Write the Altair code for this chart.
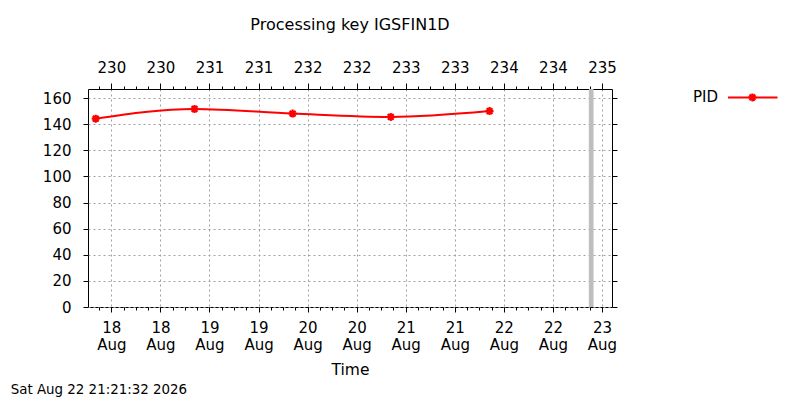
import altair as alt
import pandas as pd

# daily processing runs (UTC) and the PID value seen at each
run_times = [
    "2026-08-17T20:10:00Z",
    "2026-08-18T20:20:00Z",
    "2026-08-19T20:20:00Z",
    "2026-08-20T20:20:00Z",
    "2026-08-21T20:30:00Z",
]
pid_values = [144.3, 151.7, 148.2, 145.6, 150.1]
now_time = ["2026-08-22T21:21:32Z"]
y_ticks = [0, 20, 40, 60, 80, 100, 120, 140, 160]
stamp_text = "Sat Aug 22 21:21:32 2026"
series_name = "PID"

FONT = "DejaVu Sans"
# gnuplot pointtype 3: plus and cross on top of each other
STAR = "M-1,0L1,0M0,-1L0,1M-0.72,-0.72L0.72,0.72M-0.72,0.72L0.72,-0.72"

df = pd.DataFrame({"time": run_times, "pid": pid_values})
now_df = pd.DataFrame({"time": now_time})
dummy = pd.DataFrame({"a": [0]})


def ms(ts):
    return int(pd.Timestamp(ts).value // 10**6)


# half-day major ticks, 3-hourly minor ticks
major_ticks = [ms(t) for t in pd.date_range("2026-08-18", "2026-08-23", freq="12h", tz="UTC")]
minor_ticks = [ms(t) for t in pd.date_range("2026-08-17 21:00", "2026-08-23", freq="3h", tz="UTC")]

x_scale = alt.Scale(type="utc", domain=[ms("2026-08-17T18:17:00Z"), ms("2026-08-23T02:27:00Z")])
y_scale = alt.Scale(domain=[0, 167], nice=False)

grid_kw = dict(grid=True, gridColor="#a0a0a0", gridDash=[2, 3], gridWidth=1)

line = (
    alt.Chart(df)
    .mark_line(color="#ff0000", strokeWidth=2, interpolate="monotone")
    .encode(
        x=alt.X(
            "time:T", scale=x_scale, title="Time",
            axis=alt.Axis(
                orient="bottom", values=major_ticks, domain=False, tickSize=5,
                labelExpr="[utcFormat(datum.value, '%d'), utcFormat(datum.value, '%b')]",
                labelLineHeight=17, labelPadding=8, labelAngle=0, labelFlush=False,
                labelOverlap=False, titlePadding=10, **grid_kw,
            ),
        ),
        y=alt.Y(
            "pid:Q", scale=y_scale, title=None,
            axis=alt.Axis(orient="left", values=y_ticks, domain=False, tickSize=5,
                          labelPadding=12, **grid_kw),
        ),
    )
)

points = (
    alt.Chart(df)
    .mark_point(shape=STAR, size=64, color="#ff0000", strokeWidth=2.2, filled=False, opacity=1)
    .encode(
        x=alt.X(
            "time:T", scale=x_scale, title=None,
            axis=alt.Axis(orient="top", values=major_ticks, domain=False, tickSize=6, grid=False,
                          labelExpr="utcFormat(datum.value, '%j')", labelPadding=8,
                          labelFlush=False, labelOverlap=False),
        ),
        y=alt.Y(
            "pid:Q", scale=y_scale, title=None,
            axis=alt.Axis(orient="right", values=y_ticks, labels=False, domain=False,
                          tickSize=5, grid=False),
        ),
    )
)

# grey marker for "now", also carries the bottom minor ticks
now_rule = (
    alt.Chart(now_df)
    .mark_rule(color="#bebebe", strokeWidth=4.7)
    .encode(
        x=alt.X("time:T", scale=x_scale, title=None,
                axis=alt.Axis(orient="bottom", values=minor_ticks, labels=False, domain=False,
                              tickSize=3, grid=False)),
    )
)

top_minor = (
    alt.Chart(df)
    .mark_point(opacity=0)
    .encode(
        x=alt.X("time:T", scale=x_scale, title=None,
                axis=alt.Axis(orient="top", values=minor_ticks, labels=False, domain=False,
                              tickSize=3, grid=False)),
    )
)

# gnuplot style key, right of the plot
key_text = alt.Chart(dummy).mark_text(
    text=series_name, align="right", baseline="middle", fontSize=15, font=FONT, color="black"
).encode(x=alt.value(630), y=alt.value(7.5))
key_line = alt.Chart(dummy).mark_rule(color="#ff0000", strokeWidth=2).encode(
    x=alt.value(640), x2=alt.value(689.5), y=alt.value(8.4)
)
key_point = alt.Chart(dummy).mark_point(
    shape=STAR, size=64, color="#ff0000", strokeWidth=2.2, filled=False, opacity=1
).encode(x=alt.value(664.4), y=alt.value(8.4))

stamp = alt.Chart(dummy).mark_text(
    text=stamp_text, align="left", baseline="alphabetic", fontSize=13.4, font=FONT, color="black"
).encode(x=alt.value(-77.3), y=alt.value(305))

chart = (
    alt.layer(now_rule, top_minor, line, points, key_line, key_point, key_text, stamp)
    .resolve_axis(x="independent", y="independent")
    .properties(
        width=524,
        height=218,
        autosize="none",
        padding={"left": 80, "top": 81, "right": 180, "bottom": 95},
        title=alt.TitleParams("Processing key IGSFIN1D", offset=27),
    )
    .configure_view(stroke="black", strokeWidth=1)
    .configure_axis(
        labelFont=FONT, labelFontSize=15, labelColor="black",
        titleFont=FONT, titleFontSize=15.5, titleFontWeight="normal", titleColor="black",
        tickColor="black",
    )
    .configure_title(font=FONT, fontSize=16, fontWeight="normal", color="black", anchor="middle")
)

chart.save("out.html", embed_options={"renderer": "svg", "actions": False})
